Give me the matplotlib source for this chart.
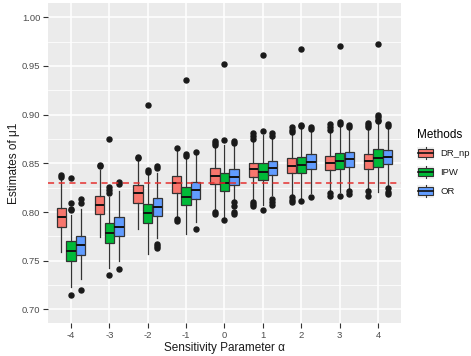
import matplotlib
matplotlib.use('Agg')
import matplotlib.pyplot as plt
from matplotlib.legend_handler import HandlerBase
from matplotlib.patches import Rectangle, Patch
from matplotlib.lines import Line2D
import numpy as np

plt.rcParams['font.family'] = ['Liberation Sans', 'DejaVu Sans']

alphas = [-4, -3, -2, -1, 0, 1, 2, 3, 4]
methods = ['DR_np', 'IPW', 'OR']
colors = ['#F8766D', '#00BA38', '#619CFF']
true_mu = 0.83

# box statistics, one list per method
dr_med = [0.7945, 0.8075, 0.8192, 0.8295, 0.8370, 0.8438, 0.8475, 0.8500, 0.8524]
dr_q1 = [0.7843, 0.7980, 0.8095, 0.8198, 0.8284, 0.8356, 0.8397, 0.8428, 0.8442]
dr_q3 = [0.8038, 0.8164, 0.8277, 0.8370, 0.8449, 0.8506, 0.8551, 0.8578, 0.8593]
dr_lo = [0.7590, 0.7740, 0.7822, 0.7960, 0.8020, 0.8123, 0.8174, 0.8208, 0.8226]
dr_hi = [0.8330, 0.8431, 0.8544, 0.8637, 0.8670, 0.8757, 0.8815, 0.8860, 0.8870]
dr_out = [[0.836, 0.838], [0.847, 0.848], [0.855, 0.857], [0.866, 0.793, 0.791],
          [0.869, 0.871, 0.873, 0.800, 0.798], [0.875, 0.878, 0.881, 0.810, 0.808, 0.806],
          [0.882, 0.884, 0.887, 0.815, 0.812, 0.810], [0.884, 0.887, 0.890, 0.8195, 0.816],
          [0.887, 0.889, 0.891, 0.822, 0.8165]]

ipw_med = [0.7602, 0.7787, 0.7986, 0.8157, 0.8300, 0.8414, 0.8483, 0.8527, 0.8552]
ipw_q1 = [0.7500, 0.7684, 0.7884, 0.8072, 0.8219, 0.8329, 0.8397, 0.8438, 0.8465]
ipw_q3 = [0.7705, 0.7890, 0.8082, 0.8260, 0.8404, 0.8500, 0.8568, 0.8609, 0.8644]
ipw_lo = [0.7232, 0.7420, 0.7568, 0.7774, 0.7952, 0.8070, 0.8140, 0.8208, 0.8208]
ipw_hi = [0.7970, 0.8157, 0.8397, 0.8562, 0.8688, 0.8790, 0.8860, 0.8894, 0.8911]
ipw_out = [[0.835, 0.809, 0.803, 0.802, 0.7147], [0.8753, 0.826, 0.823, 0.820, 0.735],
           [0.9099, 0.843, 0.841], [0.9353, 0.860, 0.858], [0.9517, 0.874, 0.7918],
           [0.9616, 0.8829, 0.802], [0.967, 0.889, 0.888, 0.8113],
           [0.9705, 0.8925, 0.890, 0.8164], [0.9723, 0.900, 0.898, 0.895, 0.893]]

or_med = [0.7658, 0.7849, 0.8048, 0.8226, 0.8362, 0.8455, 0.8510, 0.8544, 0.8568]
or_q1 = [0.7558, 0.7753, 0.7959, 0.8133, 0.8274, 0.8380, 0.8442, 0.8465, 0.8493]
or_q3 = [0.7753, 0.7945, 0.8140, 0.8311, 0.8438, 0.8527, 0.8593, 0.8620, 0.8637]
or_lo = [0.7308, 0.7496, 0.7730, 0.7900, 0.8072, 0.8174, 0.8192, 0.8243, 0.8277]
or_hi = [0.8027, 0.8219, 0.8404, 0.8585, 0.8705, 0.8773, 0.8835, 0.8860, 0.8870]
or_out = [[0.813, 0.8097, 0.7202], [0.831, 0.829, 0.7417],
          [0.847, 0.845, 0.7668, 0.765, 0.7627], [0.862, 0.7822],
          [0.873, 0.871, 0.810, 0.806, 0.800, 0.798], [0.881, 0.878, 0.813, 0.810, 0.807],
          [0.887, 0.885, 0.8157], [0.889, 0.887, 0.822, 0.818],
          [0.8905, 0.888, 0.825, 0.821, 0.819]]

series = [
    (dr_med, dr_q1, dr_q3, dr_lo, dr_hi, dr_out),
    (ipw_med, ipw_q1, ipw_q3, ipw_lo, ipw_hi, ipw_out),
    (or_med, or_q1, or_q3, or_lo, or_hi, or_out),
]

fig = plt.figure(figsize=(4.71, 3.56), dpi=100)
ax = fig.add_axes([48 / 471, 1 - 323 / 356, 353 / 471, 320 / 356])
ax.set_facecolor('#EBEBEB')
for s in ax.spines.values():
    s.set_visible(False)

ax.set_ylim(0.686, 1.0147)
ax.set_xlim(-4.6, 4.6)
ax.set_yticks(np.arange(0.70, 1.001, 0.05))
ax.set_yticks(np.arange(0.725, 1.0, 0.05), minor=True)
ax.set_xticks(alphas)
ax.set_xticklabels([str(a) for a in alphas])
ax.grid(True, which='major', color='white', linewidth=1.1)
ax.grid(True, which='minor', axis='y', color='white', linewidth=0.55)
ax.set_axisbelow(True)
ax.tick_params(which='major', length=3.5, width=0.8, color='#333333',
               labelsize=6.8, labelcolor='#4D4D4D', pad=2)
ax.tick_params(which='minor', length=0)
ax.yaxis.set_major_formatter(plt.FuncFormatter(lambda v, p: '%.2f' % v))

offsets = [-0.25, 0.0, 0.25]
for (med, q1, q3, lo, hi, out), off, col in zip(series, offsets, colors):
    stats = []
    for i in range(len(alphas)):
        stats.append(dict(med=med[i], q1=q1[i], q3=q3[i], whislo=lo[i],
                          whishi=hi[i], fliers=out[i]))
    ax.bxp(stats, positions=[a + off for a in alphas], widths=0.245,
           patch_artist=True, showcaps=False, manage_ticks=False,
           boxprops=dict(facecolor=col, edgecolor='#333333', linewidth=0.9),
           medianprops=dict(color='#111111', linewidth=1.4),
           whiskerprops=dict(color='#333333', linewidth=0.9),
           flierprops=dict(marker='o', markerfacecolor='#1A1A1A',
                           markeredgecolor='#1A1A1A', markersize=3.6))

ax.axhline(true_mu, color='#E5302F', linestyle=(0, (4, 3)), linewidth=1.1, zorder=5)

ax.set_xlabel('Sensitivity Parameter α', fontsize=8.5, color='#1A1A1A', labelpad=2)
ax.set_ylabel('Estimates of μ1', fontsize=8.5, color='#1A1A1A', labelpad=1)


class BoxKey(HandlerBase):
    def create_artists(self, legend, orig_handle, xdescent, ydescent,
                       width, height, fontsize, trans):
        x0, y0 = -xdescent, -ydescent
        bg = Rectangle((x0, y0), width, height, facecolor='#F2F2F2',
                       edgecolor='none', transform=trans)
        wl = Line2D([x0 + width / 2] * 2, [y0 + 0.05 * height, y0 + 0.95 * height],
                    color='#333333', linewidth=0.8, transform=trans)
        box = Rectangle((x0 + 0.05 * width, y0 + 0.2 * height), 0.9 * width,
                        0.6 * height, facecolor=orig_handle.get_facecolor(),
                        edgecolor='#333333', linewidth=0.8, transform=trans)
        md = Line2D([x0 + 0.05 * width, x0 + 0.95 * width], [y0 + height / 2] * 2,
                    color='#111111', linewidth=1.2, transform=trans)
        return [bg, wl, box, md]


handles = [Patch(facecolor=c) for c in colors]
leg = fig.legend(handles, methods, loc='upper left',
                 bbox_to_anchor=(417 / 471, 1 - 129 / 356), frameon=False,
                 title='Methods', title_fontsize=8.5, fontsize=6.8,
                 handler_map={Patch: BoxKey()}, handlelength=1.8,
                 handleheight=1.8, handletextpad=0.7, labelspacing=0.6,
                 borderpad=0, borderaxespad=0, alignment='left')
for t in leg.get_texts():
    t.set_color('#1A1A1A')

fig.savefig('out.png', dpi=100)
